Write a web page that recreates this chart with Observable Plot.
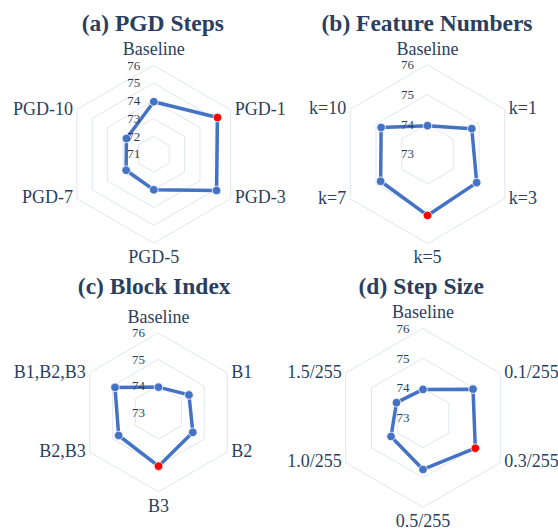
<!DOCTYPE html>
<html>
<head>
<meta charset="utf-8">
<script src="https://cdn.jsdelivr.net/npm/d3@7"></script>
<script src="https://cdn.jsdelivr.net/npm/@observablehq/plot@0.6"></script>
<style>
  html, body { margin: 0; padding: 0; background: #fff; }
  #chart { position: relative; width: 558px; height: 529px; overflow: hidden; }
  .cell { position: absolute; }
  .cell svg { overflow: visible; display: block; }
</style>
</head>
<body>
<div id="chart"></div>
<script>
// ---- data ----
const titles = ["(a) PGD Steps", "(b) Feature Numbers", "(c) Block Index", "(d) Step Size"];

const pgdLabels = ["Baseline", "PGD-1", "PGD-3", "PGD-5", "PGD-7", "PGD-10"];
const pgdValues = [73.96, 75.14, 75.08, 73.0, 72.8, 72.78];
const pgdTicks = [71, 72, 73, 74, 75, 76];

const featLabels = ["Baseline", "k=1", "k=3", "k=5", "k=7", "k=10"];
const featValues = [73.96, 74.72, 74.91, 75.06, 74.82, 74.8];
const featTicks = [73, 74, 75, 76];

const blockLabels = ["Baseline", "B1", "B2", "B3", "B2,B3", "B1,B2,B3"];
const blockValues = [73.96, 74.33, 74.5, 75.03, 74.74, 74.9];
const blockTicks = [73, 74, 75, 76];

const stepLabels = ["Baseline", "0.1/255", "0.3/255", "0.5/255", "1.0/255", "1.5/255"];
const stepValues = [73.96, 74.94, 75.03, 74.73, 74.24, 74.03];
const stepTicks = [73, 74, 75, 76];

// ---- layout (pixels) ----
const layout = [
  {left: 0,   top: 0,   width: 279, height: 265, cx: 153.3, cy: 153.8, R: 88.8, tx: 152.3, ty: 30.5},
  {left: 279, top: 0,   width: 279, height: 265, cx: 427.0, cy: 153.7, R: 89.2, tx: 426.5, ty: 30.5},
  {left: 0,   top: 265, width: 279, height: 264, cx: 158.0, cy: 412.0, R: 79.3, tx: 153.7, ty: 293},
  {left: 279, top: 265, width: 279, height: 264, cx: 422.5, cy: 417.5, R: 89.3, tx: 420.7, ty: 293}
];

const TEXT = "#2a3f5f";
const GRID = "#e0e6ef";
const BLUE = "#4472c4";
const RED = "#ff0000";
const FONT = "'Liberation Serif', 'Times New Roman', serif";

function radar(labels, values, ticks, title, L) {
  const rmin = ticks[0], rmax = ticks[ticks.length - 1];
  const n = labels.length;
  const ang = i => i * 2 * Math.PI / n;
  const norm = v => (v - rmin) / (rmax - rmin);
  const best = d3.maxIndex(values);
  const pts = labels.map((lab, i) => ({
    lab, i, v: values[i],
    x: norm(values[i]) * Math.sin(ang(i)),
    y: norm(values[i]) * Math.cos(ang(i)),
    vx: Math.sin(ang(i)),
    vy: Math.cos(ang(i))
  }));
  const grid = ticks.filter(t => t > rmin).flatMap(t =>
    labels.map((_, i) => ({t, x: norm(t) * Math.sin(ang(i)), y: norm(t) * Math.cos(ang(i))})));

  const xr = [L.cx - L.left - L.R, L.cx - L.left + L.R];
  const yr = [L.cy - L.top + L.R, L.cy - L.top - L.R];

  return Plot.plot({
    width: L.width, height: L.height, margin: 0,
    x: {domain: [-1, 1], range: xr, axis: null},
    y: {domain: [-1, 1], range: yr, axis: null},
    style: {fontFamily: FONT, overflow: "visible", background: "transparent"},
    marks: [
      Plot.line(grid, {x: "x", y: "y", z: "t", curve: "linear-closed", stroke: GRID, strokeWidth: 1}),
      Plot.line(pts, {x: "x", y: "y", curve: "linear-closed", stroke: BLUE, strokeWidth: 3.5, strokeLinejoin: "round"}),
      Plot.dot(pts.filter(d => d.i !== best), {x: "x", y: "y", r: 4.3, fill: BLUE, stroke: "white", strokeWidth: 0.8}),
      Plot.dot(pts.filter(d => d.i === best), {x: "x", y: "y", r: 4.3, fill: RED, stroke: "white", strokeWidth: 0.8}),
      Plot.text(ticks, {x: () => 0, y: t => norm(t), text: t => String(t), textAnchor: "end", lineAnchor: "middle",
        dx: -13.5, dy: 0, fontSize: 13, fill: TEXT}),
      // angular labels
      Plot.text(pts.filter(d => d.i === 0), {x: "vx", y: "vy", text: "lab", textAnchor: "middle", lineAnchor: "bottom",
        dy: -10.5, fontSize: 18, fill: TEXT}),
      Plot.text(pts.filter(d => d.vx > 0.01), {x: "vx", y: "vy", text: "lab", textAnchor: "start", lineAnchor: "middle",
        dx: 4, dy: -1, fontSize: 18, fill: TEXT}),
      Plot.text(pts.filter(d => d.i === n / 2), {x: "vx", y: "vy", text: "lab", textAnchor: "middle", lineAnchor: "bottom",
        dy: 20, fontSize: 18, fill: TEXT}),
      Plot.text(pts.filter(d => d.vx < -0.01), {x: "vx", y: "vy", text: "lab", textAnchor: "end", lineAnchor: "middle",
        dx: -4, dy: -1, fontSize: 18, fill: TEXT}),
      // title
      Plot.text([title], {frameAnchor: "top-left", text: d => d, dx: L.tx - L.left, dy: L.ty - L.top,
        textAnchor: "middle", lineAnchor: "bottom", fontSize: 23.5, fontWeight: "bold", fill: TEXT})
    ]
  });
}

const specs = [
  [pgdLabels, pgdValues, pgdTicks],
  [featLabels, featValues, featTicks],
  [blockLabels, blockValues, blockTicks],
  [stepLabels, stepValues, stepTicks]
];

const root = document.getElementById("chart");
specs.forEach(([labels, values, ticks], k) => {
  const L = layout[k];
  const cell = document.createElement("div");
  cell.className = "cell";
  cell.style.left = L.left + "px";
  cell.style.top = L.top + "px";
  cell.style.width = L.width + "px";
  cell.style.height = L.height + "px";
  cell.appendChild(radar(labels, values, ticks, titles[k], L));
  root.appendChild(cell);
});
</script>
</body>
</html>
